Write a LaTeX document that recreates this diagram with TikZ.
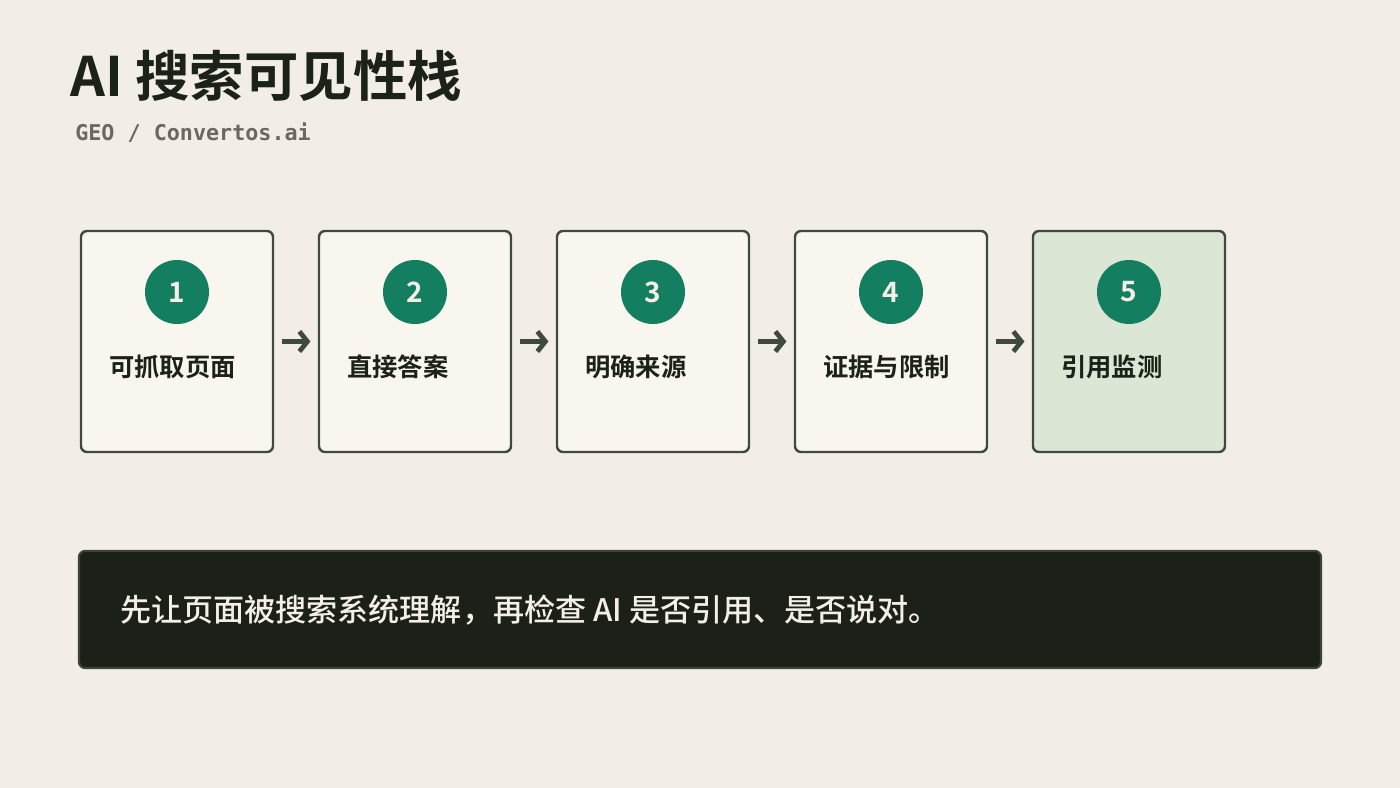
\documentclass[tikz,border=0pt]{standalone}
\usepackage{fontspec}
\setmainfont{Noto Sans CJK SC}
\newfontfamily\cjkb{Noto Sans CJK SC Bold}
\newfontfamily\cjkm{Noto Sans CJK SC Medium}
\newfontfamily\monob{DejaVu Sans Mono Bold}
\usetikzlibrary{arrows.meta}
\definecolor{bg}{HTML}{F2EEE7}
\definecolor{boxfill}{HTML}{F9F6F0}
\definecolor{lastfill}{HTML}{DCE6D5}
\definecolor{edge}{HTML}{3E4A3D}
\definecolor{ink}{HTML}{1B2219}
\definecolor{sub}{HTML}{6B6761}
\definecolor{teal}{HTML}{147F60}
\definecolor{barfill}{HTML}{1B2019}
\definecolor{baredge}{HTML}{3A4437}
\definecolor{light}{HTML}{F4F0E8}
\tikzset{
  stepbox/.style={draw=edge, line width=2.4pt*0.75, fill=boxfill, rounded corners=4.5pt, minimum width=192*0.75pt, minimum height=221*0.75pt, inner sep=0pt},
  numdot/.style={circle, fill=teal, minimum size=64*0.75pt, inner sep=0pt, text=light, font=\cjkb\fontsize{21pt}{21pt}\selectfont},
  steplabel/.style={anchor=west, inner sep=0pt, text=ink, font=\cjkb\fontsize{19pt}{19pt}\selectfont},
  flow/.style={draw=edge, line width=3.6pt, -{Straight Barb[length=6pt, width=15pt, line width=3.6pt]}}
}
\begin{document}
\begin{tikzpicture}[x=0.75pt, y=-0.75pt]
\fill[bg] (0,0) rectangle (1400,788);
\useasboundingbox (0,0) rectangle (1400,788);
\node[anchor=base west, inner sep=0pt, text=ink, font=\cjkb\fontsize{40.8pt}{40.8pt}\selectfont] (title) at (70,97) {AI 搜索可见性栈};
\node[anchor=base west, inner sep=0pt, text=sub, font=\monob\fontsize{16.3pt}{16.3pt}\selectfont] (subtitle) at (75,141) {GEO / Convertos.ai};
\foreach \i/\t in {1/可抓取页面,2/直接答案,3/明确来源,4/证据与限制,5/引用监测}{
  \pgfmathsetmacro{\cx}{177+238*(\i-1)}
  \ifnum\i=5
    \node[stepbox, fill=lastfill] (b\i) at (\cx,341.5) {};
  \else
    \node[stepbox] (b\i) at (\cx,341.5) {};
  \fi
  \node[numdot] (n\i) at (\cx,292) {\i};
  \node[steplabel] (l\i) at (\cx-68,367) {\t};
}
\foreach \a/\b in {1/2,2/3,3/4,4/5}{
  \draw[flow] ([xshift=5.5pt]b\a.east) -- ([xshift=-5.5pt]b\b.west);
}
\node[draw=baredge, line width=2.2*0.75pt, fill=barfill, rounded corners=4.5pt, minimum width=1242*0.75pt, minimum height=117*0.75pt, inner sep=0pt] (bar) at (700,609.5) {};
\node[anchor=west, inner sep=0pt, text=light, font=\cjkm\fontsize{23.3pt}{23.3pt}\selectfont] (note) at (120,610) {先让页面被搜索系统理解，再检查 AI 是否引用、是否说对。};
\end{tikzpicture}
\end{document}
